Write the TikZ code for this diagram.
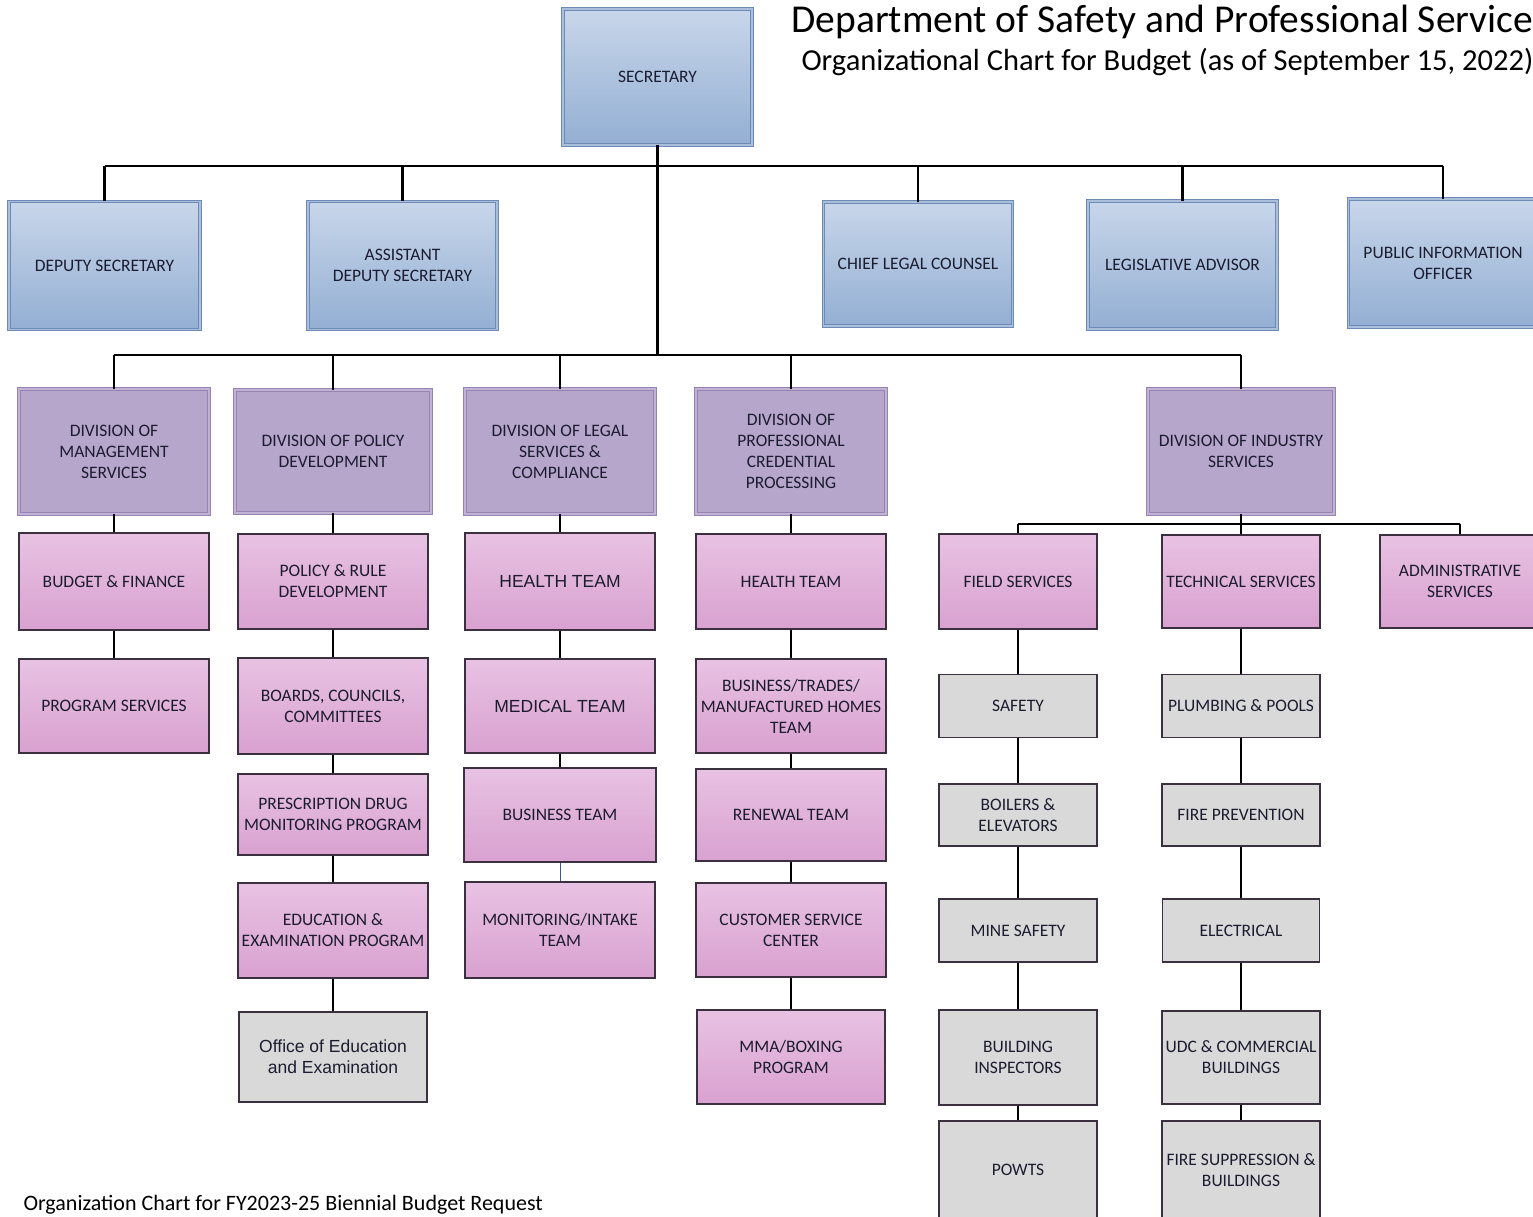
\documentclass[tikz,border=0pt]{standalone}
\usepackage{fontspec}
\setmainfont{Carlito}
\newfontfamily\arialfont{Liberation Sans}
\usepackage{xcolor}
\definecolor{blueT}{HTML}{C8D6EA}
\definecolor{blueB}{HTML}{93AFD3}
\definecolor{blueLine}{HTML}{6E8BB5}
\definecolor{purpFill}{HTML}{B6A6CC}
\definecolor{purpLine}{HTML}{9782B3}
\definecolor{pinkT}{HTML}{E8C2E3}
\definecolor{pinkB}{HTML}{D9A1D0}
\definecolor{boxLine}{HTML}{3A3040}
\definecolor{grayFill}{HTML}{D9D9D9}
\definecolor{inkText}{HTML}{1C1C30}
\definecolor{thinBlue}{HTML}{3A55A0}
\tikzset{
  box/.style={rectangle, inner sep=0pt, align=center, text=inkText,
    font=\fontsize{17.5}{21}\selectfont},
  bluebox/.style={box, top color=blueT, bottom color=blueB, draw=blueLine,
    line width=0.9pt, double=blueB!80!white, double distance=1.6pt,
    minimum width=189pt, minimum height=128pt},
  divbox/.style={box, fill=purpFill, draw=purpLine, line width=0.9pt,
    double=purpFill!85!white, double distance=1.6pt,
    minimum width=190pt, minimum height=125pt},
  pinkbox/.style={box, top color=pinkT, bottom color=pinkB, draw=boxLine,
    line width=1.1pt, minimum width=190pt, minimum height=95pt},
  graybox/.style={box, fill=grayFill, draw=boxLine, line width=1.1pt,
    minimum width=158pt, minimum height=63pt},
  arialbox/.style={font=\arialfont\fontsize{17.5}{21}\selectfont},
  link/.style={line width=2.3pt, black},
}
\begin{document}
\begin{tikzpicture}[x=1pt, y=-1pt]
\useasboundingbox[fill=white] (0,0) rectangle (1533,1216);

\node[anchor=base west, font=\fontsize{39.5}{42}\selectfont, text=black] (title) at (788,32) {Department of Safety and Professional Service};
\node[anchor=base west, font=\fontsize{30.5}{34}\selectfont, text=black] (subtitle) at (798,70) {Organizational Chart for Budget (as of September 15, 2022)};
\node[anchor=base west, font=\fontsize{22}{24}\selectfont, text=black] (footer) at (20,1210) {Organization Chart for FY2023-25 Biennial Budget Request};

\node[bluebox, minimum height=136pt] (sec) at (657.5,77) {SECRETARY};
\node[bluebox, minimum width=191pt] (dep) at (104.5,265.5) {DEPUTY SECRETARY};
\node[bluebox] (adep) at (402.5,265.5) {ASSISTANT\\DEPUTY SECRETARY};
\node[bluebox, minimum height=124pt] (counsel) at (918,264) {CHIEF LEGAL COUNSEL};
\node[bluebox] (legis) at (1182.5,265) {LEGISLATIVE ADVISOR};
\node[bluebox] (pio) at (1443,263) {PUBLIC INFORMATION\\OFFICER};

\node[divbox] (dms) at (114,451.5) {DIVISION OF\\MANAGEMENT\\SERVICES};
\node[divbox, minimum width=196pt, minimum height=123pt] (dpd) at (333,451.5) {DIVISION OF POLICY\\DEVELOPMENT};
\node[divbox] (dls) at (560,451.5) {DIVISION OF LEGAL\\SERVICES \&\\COMPLIANCE};
\node[divbox] (dpc) at (791,451.5) {DIVISION OF\\PROFESSIONAL\\CREDENTIAL\\PROCESSING};
\node[divbox, minimum width=186pt] (dis) at (1241,451.5) {DIVISION OF INDUSTRY\\SERVICES};

\node[pinkbox, minimum height=97pt] (budget) at (114,581.5) {BUDGET \& FINANCE};
\node[pinkbox, minimum height=94pt] (progsvc) at (114,706) {PROGRAM SERVICES};

\node[pinkbox] (policy) at (333,581.5) {POLICY \& RULE\\DEVELOPMENT};
\node[pinkbox, minimum height=96pt] (boards) at (333,706) {BOARDS, COUNCILS,\\COMMITTEES};
\node[pinkbox, minimum height=81pt] (pdmp) at (333,814.5) {PRESCRIPTION DRUG\\MONITORING PROGRAM};
\node[pinkbox] (eduprog) at (333,930.5) {EDUCATION \&\\EXAMINATION PROGRAM};
\node[graybox, arialbox, minimum width=188pt, minimum height=90pt] (eduoffice) at (333,1057) {Office of Education\\and Examination};

\node[pinkbox, arialbox, minimum height=97pt] (health1) at (560,581.5) {HEALTH TEAM};
\node[pinkbox, arialbox, minimum height=94pt] (medical) at (560,706) {MEDICAL TEAM};
\node[pinkbox, minimum width=192pt, minimum height=94pt] (business) at (560,815) {BUSINESS TEAM};
\node[pinkbox, minimum height=96pt] (intake) at (560,930) {MONITORING/INTAKE\\TEAM};

\node[pinkbox] (health2) at (791,581.5) {HEALTH TEAM};
\node[pinkbox, minimum height=94pt] (trades) at (791,706) {BUSINESS/TRADES/\\MANUFACTURED HOMES\\TEAM};
\node[pinkbox, minimum height=92pt] (renewal) at (791,815) {RENEWAL TEAM};
\node[pinkbox, minimum height=94pt] (custsvc) at (791,930) {CUSTOMER SERVICE\\CENTER};
\node[pinkbox, minimum width=188pt, minimum height=94pt] (mma) at (791,1057) {MMA/BOXING\\PROGRAM};

\node[pinkbox, minimum width=158pt] (field) at (1018,581.5) {FIELD SERVICES};
\node[pinkbox, minimum width=158pt, minimum height=93pt] (tech) at (1241,581.5) {TECHNICAL SERVICES};
\node[pinkbox, minimum width=160pt, minimum height=93pt] (admin) at (1460,581.5) {ADMINISTRATIVE\\SERVICES};

\node[graybox] (safety) at (1018,706) {SAFETY};
\node[graybox, minimum height=62pt] (boilers) at (1018,815) {BOILERS \&\\ELEVATORS};
\node[graybox] (mine) at (1018,930.5) {MINE SAFETY};
\node[graybox, minimum height=95pt] (bldg) at (1018,1057.5) {BUILDING\\INSPECTORS};
\node[graybox, minimum height=98pt] (powts) at (1018,1170) {POWTS};

\node[graybox] (plumb) at (1241,706) {PLUMBING \& POOLS};
\node[graybox, minimum height=62pt] (fireprev) at (1241,815) {FIRE PREVENTION};
\node[graybox, minimum width=157pt] (elec) at (1241,930.5) {ELECTRICAL};
\node[graybox, minimum height=93pt] (udc) at (1241,1057.5) {UDC \& COMMERCIAL\\BUILDINGS};
\node[graybox, minimum height=98pt] (firesup) at (1241,1170) {FIRE SUPPRESSION \&\\BUILDINGS};

\coordinate (busA) at (657.5,166);
\coordinate (busB) at (657.5,355);
\coordinate (busC) at (1241,524);

\draw[link] (sec.south) -- (busB);
\draw[link] (busA -| dep) -- (busA -| pio);
\foreach \n in {dep,adep,counsel,legis,pio}
  \draw[link] (busA -| \n) -- (\n.north);
\draw[link] (busB -| dms) -- (busB -| dis);
\foreach \n in {dms,dpd,dls,dpc,dis}
  \draw[link] (busB -| \n) -- (\n.north);
\draw[link] (dis.south) -- (busC);
\draw[link] (busC -| field) -- (busC -| admin);
\foreach \n in {field,tech,admin}
  \draw[link] (busC -| \n) -- (\n.north);

\foreach \a/\b in {dms/budget,budget/progsvc,
    dpd/policy,policy/boards,boards/pdmp,pdmp/eduprog,eduprog/eduoffice,
    dls/health1,health1/medical,medical/business,
    dpc/health2,health2/trades,trades/renewal,renewal/custsvc,custsvc/mma,
    field/safety,safety/boilers,boilers/mine,mine/bldg,bldg/powts,
    tech/plumb,plumb/fireprev,fireprev/elec,elec/udc,udc/firesup}
  \draw[link] (\a.south) -- (\b.north);
\draw[thinBlue, line width=1pt] (business.south) -- (intake.north);
\end{tikzpicture}
\end{document}
